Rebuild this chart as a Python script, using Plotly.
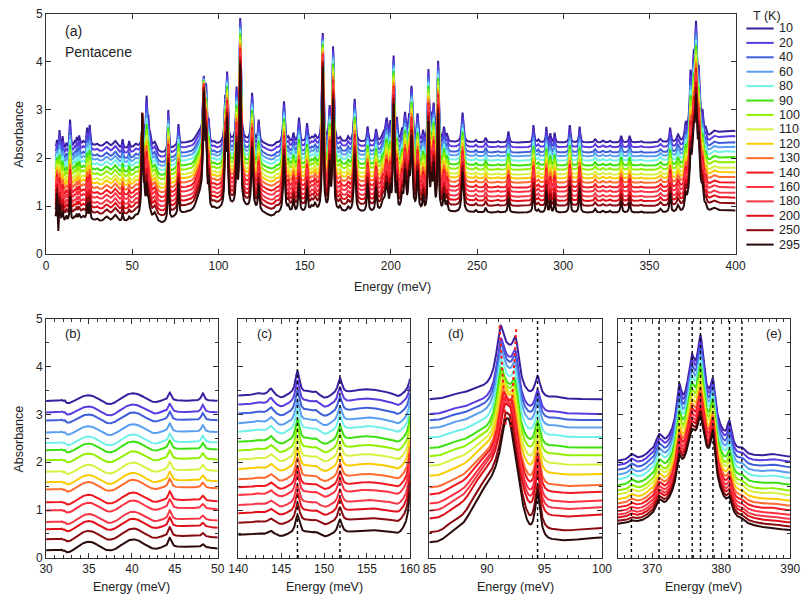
import numpy as np
import plotly.graph_objects as go

W, H = 810, 603
FONT = "Liberation Sans, Arial, sans-serif"

temps = [10, 20, 40, 60, 80, 90, 100, 110, 120, 130, 140, 160, 180, 200, 250, 295]
colors = ['#3a1e9e', '#5b3ae0', '#3f5fd8', '#5a9ef0', '#70f0e8', '#3ce010', '#90f000', '#d8f040',
          '#f8cc00', '#ff6a30', '#f01820', '#ff3040', '#f43848', '#e0101a', '#8a0a10', '#2a0a0a']

# ---------------- panel (a): overview 0-400 meV ----------------
a_start = 5.5
a_level = 0.86
a_offsets = [1.46, 1.36, 1.25, 1.17, 1.08, 0.98, 0.89, 0.79, 0.71, 0.62, 0.52, 0.43, 0.33, 0.24, 0.14, 0.0]
a_band_pos = [10, 38, 68, 110, 131, 395, 30, 105, 397, 376.5]
a_band_cold = [-0.15, -0.22, -0.20, 0.12, -0.08, 0.05, 0.10, -0.10, 0.20, 1.20]
a_band_hot = [-0.15, -0.22, -0.20, 0.12, -0.08, 0.05, 0.00, 0.00, 0.00, 1.40]
a_band_sigma = [6, 14, 5, 7, 3, 10, 15, 10, 10, 2.5]
a_pk_pos = [6.3, 7.1, 7.8, 9.6, 11.8, 13.9, 16.5, 17.8, 19.2, 21.5,
            23.8, 25.3, 29.5, 35.0, 40.0, 44.4, 48.2, 52.0, 55.8, 57.0,
            58.3, 59.3, 60.3, 63.0, 70.9, 76.8, 87.5, 89.5, 91.5, 92.8,
            94.3, 97.5, 103.9, 105.0, 110.5, 112.6, 119.5, 123.3, 133.5, 138.0,
            140.5, 143.5, 146.7, 151.4, 154.0, 156.0, 160.5, 164.5, 166.5, 170.5,
            175.2, 179.0, 186.5, 191.4, 195.5, 197.5, 199.7, 201.6, 203.5, 206.5,
            208.2, 210.5, 212.0, 215.5, 218.7, 221.8, 223.5, 224.8, 227.4, 230.8,
            232.5, 241.6, 249.3, 255.0, 262.0, 268.2, 282.7, 285.5, 290.2, 292.5,
            295.0, 303.8, 309.5, 318.5, 323.0, 327.0, 333.6, 338.5, 345.0, 356.3,
            362.0, 366.6, 371.0, 373.8, 375.7, 377.0, 378.6, 380.8, 382.6, 387.4]
a_pk_cold = [0.15, -0.12, 0.38, 0.25, 0.10, 0.58, 0.08, 0.15, 0.18, 0.06,
             0.33, 0.40, 0.05, 0.12, 0.16, 0.18, 0.14, 0.06, 0.30, 0.30,
             0.95, 0.45, 0.20, 0.15, 0.85, 0.42, 0.12, 0.15, 1.25, 1.00,
             0.40, 0.04, 0.80, 1.35, 1.00, 2.50, 1.00, 0.45, 0.05, 0.85,
             0.08, 0.18, 0.50, 0.38, 0.08, 0.12, 2.25, 0.65, 1.95, 0.08,
             0.10, 0.90, 0.32, 0.25, 0.15, 0.45, 0.30, 1.75, 0.40, 0.20,
             0.55, 0.40, 1.10, 0.55, 0.20, 1.45, 0.45, 0.70, 1.65, 0.28,
             0.15, 0.62, 0.05, 0.10, 0.03, 0.23, 0.36, 0.06, 0.32, 0.18,
             0.20, 0.36, 0.33, 0.07, 0.04, 0.04, 0.14, 0.14, 0.03, 0.07,
             0.30, 0.15, 0.30, 0.75, 0.60, 1.20, 0.60, 0.30, 0.15, 0.08]
a_pk_hot = [0.55, -0.35, 0.35, 0.20, 0.10, 0.50, 0.05, 0.10, 0.10, 0.05,
            0.30, 0.35, 0.05, 0.12, 0.16, 0.18, 0.08, 0.06, 2.10, 0.40,
            0.60, 0.30, 0.10, 0.15, 1.20, 0.65, 0.15, 0.25, 2.30, 1.30,
            0.55, 0.04, 1.20, 1.70, 1.20, 2.90, 1.30, 0.55, 0.05, 1.20,
            0.10, 0.25, 0.60, 0.50, 0.10, 0.15, 3.00, 0.95, 2.30, 0.10,
            0.10, 1.20, 0.60, 0.50, 0.20, 0.55, 0.40, 2.20, 0.50, 0.30,
            0.80, 0.60, 1.50, 0.80, 0.30, 1.80, 0.60, 0.90, 2.00, 0.35,
            0.20, 0.85, 0.05, 0.10, 0.03, 0.30, 0.50, 0.06, 0.45, 0.25,
            0.28, 0.55, 0.50, 0.08, 0.04, 0.04, 0.25, 0.22, 0.03, 0.08,
            0.40, 0.15, 0.30, 0.50, 0.40, 1.00, 0.60, 0.25, 0.10, 0.06]
a_pk_width = [0.25, 0.2, 0.35, 0.35, 0.4, 0.35, 0.5, 0.4, 0.4, 0.6,
              0.35, 0.35, 0.8, 1.5, 1.5, 0.35, 0.35, 0.8, 0.45, 0.4,
              0.45, 0.4, 0.4, 1.0, 0.35, 0.35, 1.5, 1.2, 0.6, 0.45,
              0.35, 0.6, 0.45, 0.45, 0.4, 0.45, 0.55, 0.45, 0.8, 0.55,
              0.5, 0.45, 0.45, 0.45, 0.8, 0.8, 0.45, 0.45, 0.45, 0.6,
              0.6, 0.55, 0.45, 0.45, 1.0, 0.8, 0.35, 0.45, 0.35, 0.6,
              0.6, 0.5, 0.6, 0.5, 0.4, 0.4, 0.5, 0.5, 0.4, 0.5,
              0.5, 0.6, 0.5, 0.5, 0.6, 0.45, 0.4, 0.5, 0.35, 0.35,
              0.35, 0.4, 0.4, 0.6, 0.6, 0.6, 0.45, 0.45, 0.6, 0.8,
              0.45, 0.8, 0.6, 0.35, 0.5, 0.45, 0.35, 0.4, 0.5, 1.5]

# ---------------- panel (b): 30-50 meV ----------------
b_offsets = [3.28, 3.04, 2.87, 2.62, 2.40, 2.25, 2.04, 1.80, 1.58, 1.43, 1.16, 0.99, 0.75, 0.60, 0.39, 0.16]
b_band_pos = [32.6, 35.0, 37.4, 40.1, 42.6, 46.5]
b_band_cold = [-0.06, 0.12, -0.09, 0.16, -0.05, 0.0]
b_band_hot = [-0.06, 0.18, -0.04, 0.22, -0.03, 0.07]
b_band_sigma = [0.6, 1.1, 0.9, 1.2, 0.7, 3.0]
b_pk_pos = [31.8, 32.15, 43.5, 44.4, 48.25]
b_pk_cold = [0.04, 0.05, 0.02, 0.17, 0.16]
b_pk_hot = [0.03, 0.03, 0.02, 0.20, 0.07]
b_pk_width = [0.12, 0.12, 0.5, 0.22, 0.2]

# ---------------- panel (c): 140-160 meV ----------------
c_offsets = [3.39, 3.20, 3.01, 2.81, 2.63, 2.42, 2.24, 2.05, 1.85, 1.64, 1.47, 1.31, 1.10, 0.93, 0.73, 0.48]
c_band_pos = [145.0, 150.1, 154.5, 158.6, 156.5]
c_band_cold = [-0.06, -0.07, 0.10, -0.06, 0.05]
c_band_hot = [-0.04, -0.05, 0.07, -0.05, 0.04]
c_band_sigma = [0.45, 0.5, 1.5, 0.4, 1.5]
c_pk_pos = [142.2, 143.8, 146.9, 148.0, 149.0, 151.85, 160.5]
c_pk_cold = [0.05, 0.14, 0.50, 0.05, 0.07, 0.34, 1.75]
c_pk_hot = [0.03, 0.08, 0.40, 0.03, 0.05, 0.30, 4.50]
c_pk_width = [0.5, 0.35, 0.30, 0.4, 0.45, 0.30, 0.25]
c_marks = [146.9, 151.85]

# ---------------- panel (d): 85-100 meV ----------------
d_offsets = [3.31, 3.00, 2.87, 2.71, 2.51, 2.29, 2.12, 1.92, 1.71, 1.47, 1.32, 1.13, 0.98, 0.82, 0.53, 0.32]
d_mix = [0.0, 0.04, 0.06, 0.08, 0.10, 0.14, 0.20, 0.28, 0.38, 0.48, 0.56, 0.66, 0.75, 0.83, 0.92, 1.0]
d_band_pos10 = [91.8, 90.2, 89.0, 87.0, 100.0]
d_band_pos295 = [92.0, 90.2, 89.0, 87.0, 100.0]
d_band_cold = [0.80, 0.15, 0.10, 0.06, 0.0]
d_band_hot = [1.47, 1.15, 0.0, 0.12, 0.10]
d_band_sigma = [0.8, 1.5, 1.2, 0.6, 2.0]
d_pk_pos10 = [91.15, 92.5, 94.4, 96.0]
d_pk_pos295 = [91.6, 92.0, 94.4, 96.0]
d_pk_cold = [0.78, 0.65, 0.46, 0.04]
d_pk_hot = [0.40, 0.30, 1.00, 0.02]
d_pk_width = [0.35, 0.30, 0.28, 0.5]
d_marks = [94.4]
d_red_x = [[91.1, 91.65], [92.55, 92.05]]
d_red_y = [[4.85, 2.73], [4.78, 2.73]]

# ---------------- panel (e): 365-390 meV ----------------
e_offsets = [2.00, 1.91, 1.81, 1.71, 1.61, 1.49, 1.38, 1.30, 1.20, 1.11, 1.03, 0.95, 0.88, 0.82, 0.75, 0.69]
e_band_pos = [376.5, 376.5, 390.0]
e_band_cold = [1.15, 0.20, 0.10]
e_band_hot = [1.35, 0.20, -0.12]
e_band_sigma = [2.4, 5.0, 6.0]
e_pk_pos = [367.0, 369.5, 371.0, 373.9, 375.7, 377.0, 378.8, 381.2, 383.0, 387.5]
e_pk_cold = [0.12, 0.05, 0.35, 0.70, 0.75, 1.15, 0.70, 0.48, 0.10, 0.05]
e_pk_hot = [0.05, 0.03, 0.30, 0.45, 0.40, 0.65, 0.85, 0.25, 0.05, 0.03]
e_pk_width = [0.45, 0.6, 0.65, 0.4, 0.55, 0.5, 0.4, 0.4, 0.5, 1.0]
e_marks = [367.0, 371.0, 373.9, 375.8, 377.0, 378.8, 381.2, 383.0]


def spectrum(x, t, level, bpos0, bpos1, bc, bh, bs, ppos0, ppos1, pc, ph, pw):
    y = np.full_like(x, level, dtype=float)
    for c0, c1, a0, a1, s in zip(bpos0, bpos1, bc, bh, bs):
        c = c0 + (c1 - c0) * t
        a = a0 + (a1 - a0) * t
        y += a * np.exp(-(x - c) ** 2 / (2 * s * s))
    for c0, c1, a0, a1, g in zip(ppos0, ppos1, pc, ph, pw):
        c = c0 + (c1 - c0) * t
        a = a0 + (a1 - a0) * t
        y += a * g * g / ((x - c) ** 2 + g * g)
    return y


def px_x(p):
    return p / W


def px_y(p):
    return 1 - p / H


fig = go.Figure()
n = len(temps)

xa = np.arange(a_start, 400.001, 0.1)
xb = np.arange(30, 50.001, 0.02)
xc = np.arange(140, 160.001, 0.02)
xd = np.arange(85, 100.001, 0.02)
xe = np.arange(365, 390.001, 0.02)

for i, (T, col) in enumerate(zip(temps, colors)):
    t = i / (n - 1)
    ln = dict(color=col, width=2.0)
    ya = spectrum(xa, t, a_level + a_offsets[i], a_band_pos, a_band_pos, a_band_cold, a_band_hot,
                  a_band_sigma, a_pk_pos, a_pk_pos, a_pk_cold, a_pk_hot, a_pk_width)
    fig.add_trace(go.Scatter(x=xa, y=ya, mode='lines', line=ln, xaxis='x', yaxis='y',
                             name=f'{T}', showlegend=False))
    yb = spectrum(xb, t, b_offsets[i], b_band_pos, b_band_pos, b_band_cold, b_band_hot, b_band_sigma,
                  b_pk_pos, b_pk_pos, b_pk_cold, b_pk_hot, b_pk_width)
    fig.add_trace(go.Scatter(x=xb, y=yb, mode='lines', line=ln, xaxis='x2', yaxis='y2', showlegend=False))
    yc = spectrum(xc, t, c_offsets[i], c_band_pos, c_band_pos, c_band_cold, c_band_hot, c_band_sigma,
                  c_pk_pos, c_pk_pos, c_pk_cold, c_pk_hot, c_pk_width)
    fig.add_trace(go.Scatter(x=xc, y=yc, mode='lines', line=ln, xaxis='x3', yaxis='y3', showlegend=False))
    yd = spectrum(xd, d_mix[i], d_offsets[i], d_band_pos10, d_band_pos295, d_band_cold, d_band_hot,
                  d_band_sigma, d_pk_pos10, d_pk_pos295, d_pk_cold, d_pk_hot, d_pk_width)
    fig.add_trace(go.Scatter(x=xd, y=yd, mode='lines', line=ln, xaxis='x4', yaxis='y4', showlegend=False))
    ye = spectrum(xe, t, e_offsets[i], e_band_pos, e_band_pos, e_band_cold, e_band_hot, e_band_sigma,
                  e_pk_pos, e_pk_pos, e_pk_cold, e_pk_hot, e_pk_width)
    fig.add_trace(go.Scatter(x=xe, y=ye, mode='lines', line=ln, xaxis='x5', yaxis='y5', showlegend=False))

# dotted marker lines
for marks, xr, yr in [(c_marks, 'x3', 'y3'), (d_marks, 'x4', 'y4'), (e_marks, 'x5', 'y5')]:
    for m in marks:
        fig.add_trace(go.Scatter(x=[m, m], y=[0, 5], mode='lines', xaxis=xr, yaxis=yr,
                                 line=dict(color='black', width=1.4, dash='dot'), showlegend=False))
for rx, ry in zip(d_red_x, d_red_y):
    fig.add_trace(go.Scatter(x=rx, y=ry, mode='lines', xaxis='x4', yaxis='y4',
                             line=dict(color='#ff1a1a', width=2.0, dash='dot'), showlegend=False))

tickfont = dict(family=FONT, size=12, color='#222')
base_axis = dict(showline=True, linecolor='#333', linewidth=1, mirror='ticks', ticks='inside',
                 ticklen=5, tickcolor='#333', showgrid=False, zeroline=False, tickfont=tickfont)

top_y = [px_y(253), px_y(7)]
bot_y = [px_y(564), px_y(319)]
minor_x = dict(ticks='inside', ticklen=3, dtick=1, tickcolor='#333')
minor_y = dict(ticks='inside', ticklen=3, dtick=0.5, tickcolor='#333')

layout = dict(
    width=W, height=H, margin=dict(l=0, r=0, t=0, b=0),
    paper_bgcolor='white', plot_bgcolor='white', showlegend=False,
    font=dict(family=FONT, color='#222'),
    xaxis=dict(base_axis, domain=[px_x(37), px_x(744)], range=[0, 400], dtick=50, tick0=0, anchor='y'),
    yaxis=dict(base_axis, domain=top_y, range=[0, 5], dtick=1, anchor='x'),
    xaxis2=dict(base_axis, domain=[px_x(37), px_x(213)], range=[30, 50], dtick=5, tick0=30, minor=minor_x, anchor='y2'),
    yaxis2=dict(base_axis, domain=bot_y, range=[0, 5], dtick=1, minor=minor_y, anchor='x2'),
    xaxis3=dict(base_axis, domain=[px_x(234), px_x(410)], range=[140, 160], dtick=5, tick0=140, minor=minor_x, anchor='y3'),
    yaxis3=dict(base_axis, domain=bot_y, range=[0, 5], dtick=1, minor=minor_y, showticklabels=False, anchor='x3'),
    xaxis4=dict(base_axis, domain=[px_x(430), px_x(607)], range=[85, 100], dtick=5, tick0=85, minor=minor_x, anchor='y4'),
    yaxis4=dict(base_axis, domain=bot_y, range=[0, 5], dtick=1, minor=minor_y, showticklabels=False, anchor='x4'),
    xaxis5=dict(base_axis, domain=[px_x(623), px_x(800)], range=[365, 390], dtick=10, tick0=370, minor=minor_x, anchor='y5'),
    yaxis5=dict(base_axis, domain=bot_y, range=[0, 5], dtick=1, minor=minor_y, showticklabels=False, anchor='x5'),
)
fig.update_layout(**layout)

annots = []


def ann(text, x, y, size=13, xanchor='left', angle=0):
    annots.append(dict(text=text, x=px_x(x), y=px_y(y), xref='paper', yref='paper', showarrow=False,
                       xanchor=xanchor, yanchor='middle', textangle=angle,
                       font=dict(family=FONT, size=size, color='#222')))


ann('(a)', 54, 25, 14)
ann('Pentacene', 54, 46, 14)
ann('(b)', 54, 334, 13)
ann('(c)', 251, 334, 13)
ann('(d)', 447, 334, 13)
ann('(e)', 794, 334, 13, xanchor='right')
ann('Absorbance', 9, 130, 12.5, xanchor='center', angle=-90)
ann('Absorbance', 9, 442, 12.5, xanchor='center', angle=-90)
ann('Energy (meV)', 392, 287, 12.5, xanchor='center')
for cx in [125, 322, 518, 711]:
    ann('Energy (meV)', cx, 594, 12.5, xanchor='center')

# legend (custom)
ann('T (K)', 760, 9, 12.5)
shapes = []
for i, (T, col) in enumerate(zip(temps, colors)):
    yy = 22 + i * 14.75
    shapes.append(dict(type='line', xref='paper', yref='paper', x0=px_x(755), x1=px_x(783),
                       y0=px_y(yy), y1=px_y(yy), line=dict(color=col, width=2)))
    ann(str(T), 786, yy, 12.5)

fig.update_layout(annotations=annots, shapes=shapes)
fig.write_html("out.html", config={'displayModeBar': False},
               post_script="document.body.style.margin='0';")
